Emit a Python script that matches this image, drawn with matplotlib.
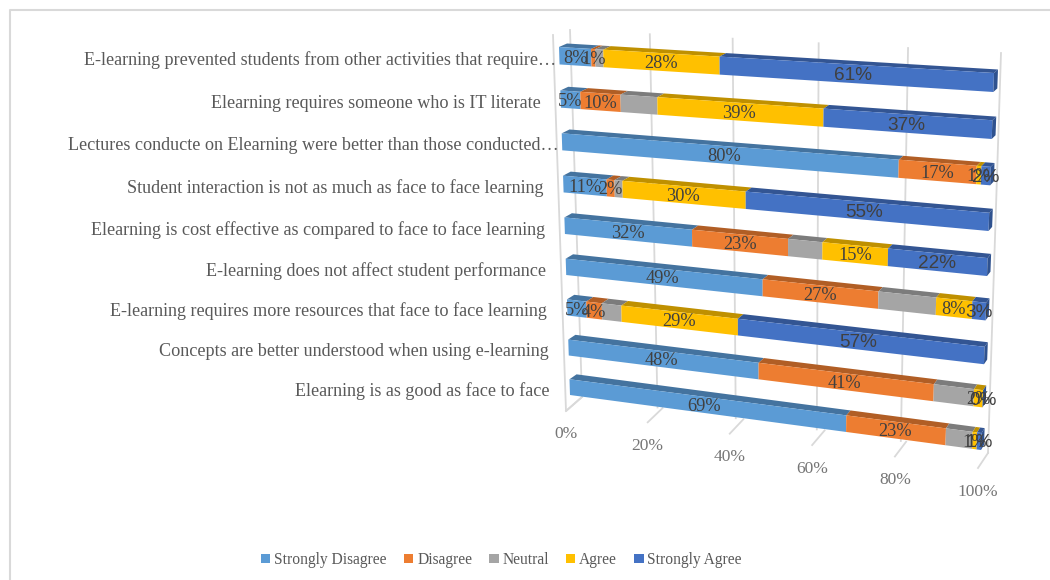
import numpy as np
import matplotlib
matplotlib.use('Agg')
import matplotlib.pyplot as plt
from matplotlib.patches import Polygon
from matplotlib.transforms import Transform

categories = ['E-learning prevented students from other activities that require…',
              'Elearning requires someone who is IT literate',
              'Lectures conducte on Elearning were better than those conducted…',
              'Student interaction is not as much as face to face learning',
              'Elearning is cost effective as compared to face to face learning',
              'E-learning does not affect student performance',
              'E-learning requires more resources that face to face learning',
              'Concepts are better understood when using e-learning',
              'Elearning is as good as face to face']
strongly_disagree = [8, 5, 80, 11, 32, 49, 5, 48, 69]
disagree = [1, 10, 17, 2, 23, 27, 4, 41, 23]
neutral = [2, 9, 0, 2, 8, 13, 5, 9, 6]
agree = [28, 39, 1, 30, 15, 8, 29, 2, 1]
strongly_agree = [61, 37, 2, 55, 22, 3, 57, 0, 1]
series_names = ['Strongly Disagree', 'Disagree', 'Neutral', 'Agree', 'Strongly Agree']
x_ticks = [0, 20, 40, 60, 80, 100]

colors = ['#5B9BD5', '#ED7D31', '#A5A5A5', '#FFC000', '#4472C4']
dark_colors = ['#44739F', '#B15E25', '#7C7C7C', '#BF9000', '#335593']
SERIF = 'Liberation Serif'
SANS = 'Liberation Sans'
TXT = '#595959'


class Persp(Transform):
    # maps a plane (u, v) onto picture pixels through 4 corners
    input_dims = 2
    output_dims = 2
    is_separable = False
    has_inverse = False

    def __init__(self, src, dst):
        super().__init__()
        A = []
        b = []
        for (u, v), (x, y) in zip(src, dst):
            A.append([u, v, 1, 0, 0, 0, -u * x, -v * x])
            A.append([0, 0, 0, u, v, 1, -u * y, -v * y])
            b += [x, y]
        self.H = np.append(np.linalg.solve(np.array(A, float), np.array(b, float)), 1).reshape(3, 3)

    def transform_non_affine(self, values):
        pts = np.column_stack([values, np.ones(len(values))]) @ self.H.T
        return pts[:, :2] / pts[:, 2:]


fig = plt.figure(figsize=(10.5, 5.8), dpi=100)
ax = fig.add_axes([0, 0, 1, 1])
ax.set_axis_off()

bar_h = 0.4
top = -bar_h / 2
bot = 8 + bar_h / 2
corners = [(0, top), (100, top), (100, bot), (0, bot)]
front = Persp(corners, [(559, 47), (994, 73), (981, 450), (570, 395)])
back = Persp(corners, [(567, 43.5), (998, 69.5), (984, 445), (577, 390)])
wall = Persp([(0, 0), (100, 0), (100, 1), (0, 1)], [(570, 30), (1001, 53), (988, 453), (582, 397)])
floor = Persp([(0, 0), (100, 0), (100, 1), (0, 1)], [(566, 411), (978, 468), (988, 453), (582, 397)])
front_t = front + ax.transData
back_t = back + ax.transData
wall_t = wall + ax.transData
floor_t = floor + ax.transData

# chart border
ax.plot([1050, 10, 10], [10, 10, 580], color='#D9D9D9', lw=1.5, zorder=0)

# walls and floor lines
for t in x_ticks:
    ax.plot([t, t], [0, 1], color='#D9D9D9', lw=1.3, transform=wall_t, zorder=0)
    ax.plot([t, t], [0, 1], color='#D9D9D9', lw=1.3, transform=floor_t, zorder=0)
    ax.annotate(f'{t}%', (t, 0), xycoords=floor_t, xytext=(0, -23.5), textcoords='offset pixels',
                ha='center', va='center', color='#767676', family=SERIF, fontsize=12.5)
ax.plot([553, 566, 582], [35, 411, 397], color='#D9D9D9', lw=1.3, zorder=0)

rows = np.arange(len(categories))
values = np.array([strongly_disagree, disagree, neutral, agree, strongly_agree], float)
lefts = np.zeros(len(categories))
handles = []
for i, vals in enumerate(values):
    # top face of each piece
    for r in rows:
        if vals[r] == 0:
            continue
        a = front.transform([[lefts[r], r - bar_h / 2], [lefts[r] + vals[r], r - bar_h / 2]])
        c = back.transform([[lefts[r] + vals[r], r - bar_h / 2], [lefts[r], r - bar_h / 2]])
        ax.add_patch(Polygon(np.vstack([a, c]), fc=dark_colors[i], ec='none'))
    bars = ax.barh(rows, vals, bar_h, left=lefts, color=colors[i], lw=0, transform=front_t,
                   label=series_names[i])
    handles.append(bars)
    for r in rows:
        if i == 2 or (vals[r] == 0 and i != 4):
            continue
        ax.annotate(f'{vals[r]:.0f}%', (lefts[r] + vals[r] / 2, r), xycoords=front_t,
                    xytext=(0, -1.5), textcoords='offset pixels',
                    ha='center', va='center', color='#404040', zorder=5,
                    family=SANS if i == 4 else SERIF, fontsize=13.7 if i == 4 else 13.2)
    lefts = lefts + vals

# right end of the bars
for r in rows:
    a = front.transform([[100, r - bar_h / 2], [100, r + bar_h / 2]])
    c = back.transform([[100, r + bar_h / 2], [100, r - bar_h / 2]])
    ax.add_patch(Polygon(np.vstack([a, c]), fc='#2F528F', ec='none'))

# category labels, the cut ones sit closer to the bars
for r, name in zip(rows, categories):
    pad = -3.5 if name.endswith('…') else -20
    ax.annotate(name, (0, r), xycoords=front_t, xytext=(pad, -4), textcoords='offset pixels',
                ha='right', va='center', color=TXT, family=SERIF, fontsize=13.1)

ax.set_xlim(0, 1050)
ax.set_ylim(580, 0)

leg = ax.legend(handles=handles, ncol=5, loc='center', bbox_to_anchor=(501.5, 560),
                bbox_transform=ax.transData, frameon=False, handlelength=0.6, handleheight=0.6,
                handletextpad=0.25, columnspacing=1.1, borderpad=0, labelcolor=TXT,
                prop={'family': SERIF, 'size': 11.2})

fig.savefig('out.png', dpi=100)
